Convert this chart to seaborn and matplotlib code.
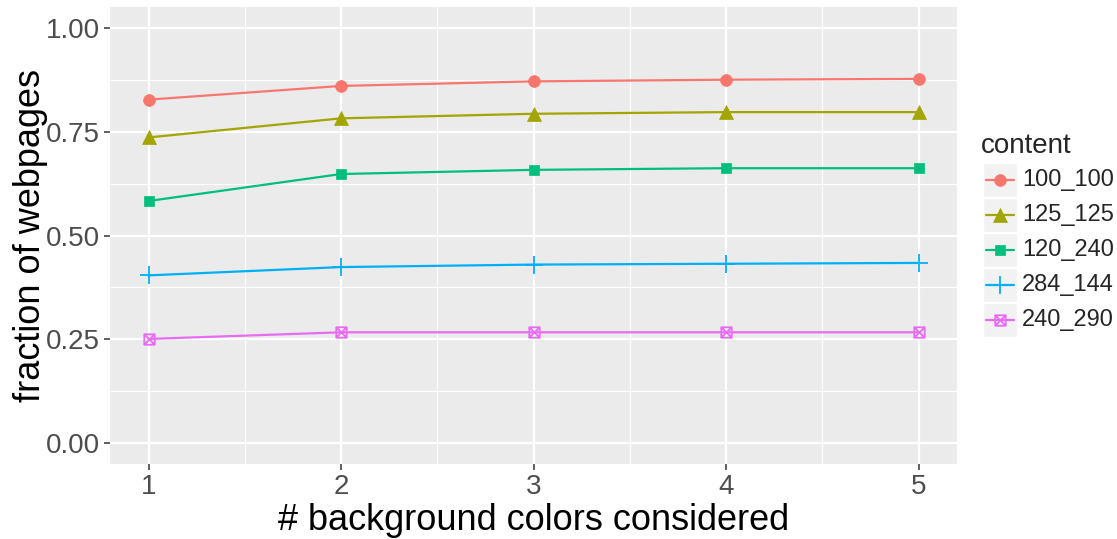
import numpy as np
import pandas as pd
import seaborn as sns
import matplotlib.pyplot as plt
from matplotlib.path import Path
from matplotlib.lines import Line2D
from matplotlib.patches import Rectangle
from matplotlib.ticker import FixedLocator

# data
n_colors = [1, 2, 3, 4, 5]
content = ["100_100", "125_125", "120_240", "284_144", "240_290"]
frac_100_100 = [0.827, 0.860, 0.871, 0.875, 0.877]
frac_125_125 = [0.736, 0.782, 0.793, 0.797, 0.797]
frac_120_240 = [0.583, 0.648, 0.658, 0.662, 0.662]
frac_284_144 = [0.404, 0.424, 0.430, 0.432, 0.434]
frac_240_290 = [0.251, 0.267, 0.267, 0.267, 0.267]

series = [frac_100_100, frac_125_125, frac_120_240, frac_284_144, frac_240_290]
df = pd.DataFrame({
    "n": np.tile(n_colors, len(content)),
    "frac": np.concatenate(series),
    "content": np.repeat(content, len(n_colors)),
})

palette = ["#F8766D", "#A3A500", "#00BF7D", "#00B0F6", "#E76BF3"]

# square with an X through it
sq_x = Path(
    [(-1, -1), (1, -1), (1, 1), (-1, 1), (-1, -1),
     (-1, -1), (1, 1), (-1, 1), (1, -1)],
    [Path.MOVETO, Path.LINETO, Path.LINETO, Path.LINETO, Path.CLOSEPOLY,
     Path.MOVETO, Path.LINETO, Path.MOVETO, Path.LINETO],
)
marker_kw = [
    dict(marker="o", ms=8.5, mfc=None),
    dict(marker="^", ms=9.5, mfc=None),
    dict(marker="s", ms=7.5, mfc=None),
    dict(marker="+", ms=13, mfc=None),
    dict(marker=sq_x, ms=7.5, mfc="none"),
]


def edge_width(kw):
    return 1.3 if kw["marker"] == "+" or kw["mfc"] == "none" else 0.5


sns.set_theme(style="darkgrid")
plt.rcParams["font.family"] = ["Liberation Sans", "DejaVu Sans"]

W, H = 1117, 539
fig = plt.figure(figsize=(W / 100, H / 100), dpi=100)
ax = fig.add_axes([110 / W, 1 - 464 / H, (957 - 110) / W, (464 - 7) / H])
ax.set_facecolor("#EBEBEB")

sns.lineplot(data=df, x="n", y="frac", hue="content", hue_order=content,
             palette=palette, ax=ax, legend=False, linewidth=1.6)

for line, kw, col in zip(ax.get_lines(), marker_kw, palette):
    line.set_marker(kw["marker"])
    line.set_markersize(kw["ms"])
    line.set_markeredgecolor(col)
    line.set_markerfacecolor(col if kw["mfc"] is None else kw["mfc"])
    line.set_markeredgewidth(edge_width(kw))

ax.set_xlim(0.8, 5.2)
ax.set_ylim(-0.05, 1.05)
ax.set_xticks(n_colors)
ax.set_yticks([0, 0.25, 0.5, 0.75, 1.0])
ax.set_yticklabels(["0.00", "0.25", "0.50", "0.75", "1.00"])
ax.xaxis.set_minor_locator(FixedLocator([1.5, 2.5, 3.5, 4.5]))
ax.yaxis.set_minor_locator(FixedLocator([0.125, 0.375, 0.625, 0.875]))
ax.grid(which="major", color="white", linewidth=1.6)
ax.grid(which="minor", color="white", linewidth=0.8)
ax.set_axisbelow(True)
for s in ax.spines.values():
    s.set_visible(False)
ax.tick_params(axis="both", which="major", length=4, width=1.1, color="#333333",
               labelsize=20, labelcolor="#4D4D4D", pad=3, bottom=True, left=True)
ax.tick_params(axis="both", which="minor", length=0)
ax.set_xlabel("# background colors considered", fontsize=26, color="black", labelpad=2)
ax.set_ylabel("fraction of webpages", fontsize=26, color="black", labelpad=-1.5)

# legend
def fx(px):
    return px / W


def fy(py):
    return 1 - py / H


fig.text(fx(981), fy(146), "content", fontsize=20, va="center", ha="left")
key_w = 34
for i, (name, kw, col) in enumerate(zip(content, marker_kw, palette)):
    top = 163 + i * 35
    fig.add_artist(Rectangle((fx(983), fy(top + key_w)), key_w / W, key_w / H,
                             transform=fig.transFigure, facecolor="#F2F2F2",
                             edgecolor="white", linewidth=1))
    cy = fy(top + key_w / 2)
    fig.add_artist(Line2D([fx(986), fx(1014)], [cy, cy], transform=fig.transFigure,
                          color=col, linewidth=1.6))
    fig.add_artist(Line2D([fx(1000)], [cy], transform=fig.transFigure,
                          color=col, marker=kw["marker"], ms=kw["ms"],
                          mec=col, mfc=col if kw["mfc"] is None else kw["mfc"],
                          mew=edge_width(kw), linestyle="none"))
    fig.text(fx(1022), cy, name, fontsize=17, va="center", ha="left")

fig.savefig("out.png", dpi=100, facecolor="white")
